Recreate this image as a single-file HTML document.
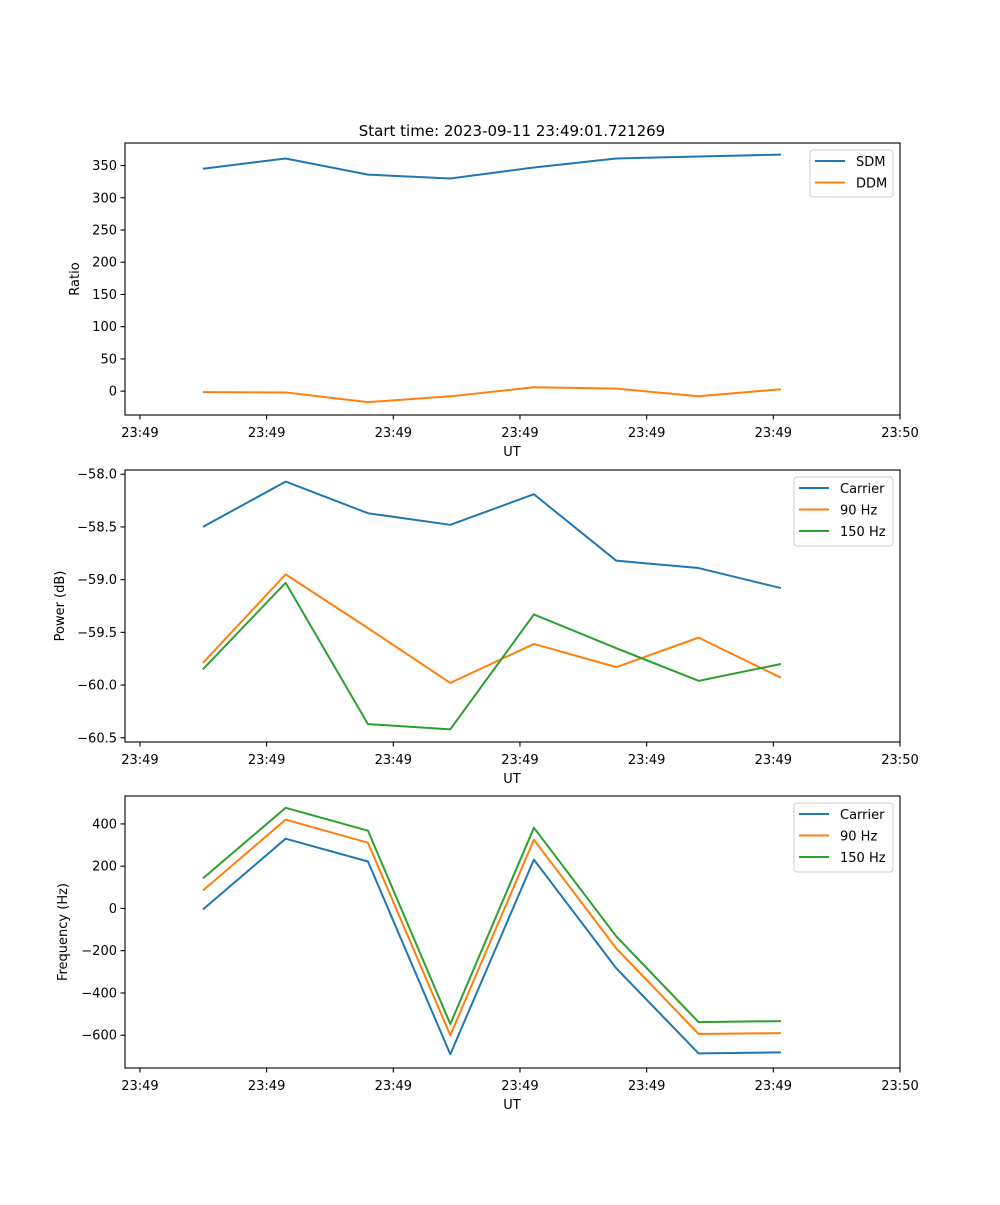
<!DOCTYPE html>
<html><head><meta charset="utf-8"><style>
body{margin:0;background:#fff}
svg text{font-family:"DejaVu Sans","Liberation Sans",sans-serif;font-size:13px;fill:#000}
</style></head><body>
<svg id="fig" width="1000" height="1200" xmlns="http://www.w3.org/2000/svg">
<rect width="1000" height="1200" fill="#fff"/>
<text x="512" y="136" text-anchor="middle" style="font-size:15px">Start time: 2023-09-11 23:49:01.721269</text>
</svg>
<script>
const times=[4.97,11.5,18.0,24.5,31.1,37.6,44.1,50.6];
const xTicks=[0,10,20,30,40,50,60];
const xTickLabels=["23:49","23:49","23:49","23:49","23:49","23:49","23:50"];
const sdm=[345,361,336,330,347,361,364,367];
const ddm=[-1.5,-2,-17,-8,6,4,-8,3];
const pCarrier=[-58.5,-58.07,-58.37,-58.48,-58.19,-58.82,-58.89,-59.08];
const p90=[-59.79,-58.95,-59.46,-59.98,-59.61,-59.83,-59.55,-59.93];
const p150=[-59.85,-59.03,-60.37,-60.42,-59.33,-59.65,-59.96,-59.8];
const fCarrier=[-5,330,222,-690,231,-283,-686,-681];
const f90=[85,420,311,-600,325,-189,-594,-590];
const f150=[142,476,368,-547,382,-132,-538,-533];
const ratioTicks=[0,50,100,150,200,250,300,350];
const powerTicks=[-60.5,-60.0,-59.5,-59.0,-58.5,-58.0];
const freqTicks=[-600,-400,-200,0,200,400];
const C=["#1f77b4","#ff7f0e","#2ca02c"];
const svg=document.getElementById('fig');
const NS="http://www.w3.org/2000/svg";
function mk(t,a,p){const e=document.createElementNS(NS,t);for(const k in a)e.setAttribute(k,a[k]);(p||svg).appendChild(e);return e;}
const X0=125,X1=900,XD0=-1.18,XD1=60;
const xs=t=>X0+(t-XD0)/(XD1-XD0)*(X1-X0);
function panel(name,top,bot,yMin,yMax,ticks,fmt,ylabel,series,labels,legW,legX,ylx){
  const g=mk('g',{});
  
  
  const ys=v=>bot-(v-yMin)/(yMax-yMin)*(bot-top);
  series.forEach((s,i)=>{
    const pl=mk('polyline',{points:s.map((v,j)=>xs(times[j])+','+ys(v)).join(' '),fill:'none',stroke:C[i],'stroke-width':2,'stroke-linejoin':'round'},g);
    
    
  });
  const fr=mk('rect',{x:X0,y:top,width:X1-X0,height:bot-top,fill:'none',stroke:'#000','stroke-width':1.1},g);
  
  
  xTicks.forEach((t,i)=>{
    const x=xs(t);
    mk('line',{x1:x,x2:x,y1:bot,y2:bot+4.5,stroke:'#000','stroke-width':1.1},g);
    const tx=mk('text',{x:x,y:bot+22,'text-anchor':'middle'},g);tx.textContent=xTickLabels[i];
    
    
  });
  ticks.forEach(v=>{
    const y=ys(v);
    mk('line',{x1:X0-4.5,x2:X0,y1:y,y2:y,stroke:'#000','stroke-width':1.1},g);
    const tx=mk('text',{x:X0-8,y:y+4.5,'text-anchor':'end'},g);tx.textContent=fmt(v);
    
    
  });
  const xl=mk('text',{x:512,y:bot+41,'text-anchor':'middle'},g);xl.textContent='UT';
  
  
  const lx=ylx, ly=(top+bot)/2;
  const yl=mk('text',{x:lx,y:ly,'text-anchor':'middle',transform:'rotate(-90 '+lx+' '+ly+')'},g);yl.textContent=ylabel;
  
  
  const lg=mk('g',{},g);
  
  
  const lh=labels.length*22+3;
  mk('rect',{x:legX,y:top+7,width:legW,height:lh,rx:3,fill:'#fff','fill-opacity':0.8,stroke:'#ccc','stroke-width':1},lg);
  labels.forEach((l,i)=>{
    const y=top+18+i*21.5;
    mk('line',{x1:legX+5,x2:legX+35,y1:y,y2:y,stroke:C[i],'stroke-width':2},lg);
    const t=mk('text',{x:legX+46,y:y+5},lg);t.textContent=l;
    
    
  });
}
const m=(s)=>s.replace('-','\u2212');
panel('ratio',143,415,-37,385,ratioTicks,v=>m(String(v)),'Ratio',[sdm,ddm],['SDM','DDM'],83,810,79);
panel('power',470,742,-60.54,-57.96,powerTicks,v=>m(v.toFixed(1)),'Power (dB)',[pCarrier,p90,p150],['Carrier','90 Hz','150 Hz'],99,794,64);
panel('frequency',796,1068,-755,532,freqTicks,v=>m(String(v)),'Frequency (Hz)',[fCarrier,f90,f150],['Carrier','90 Hz','150 Hz'],99,794,67);
</script>
</body></html>
